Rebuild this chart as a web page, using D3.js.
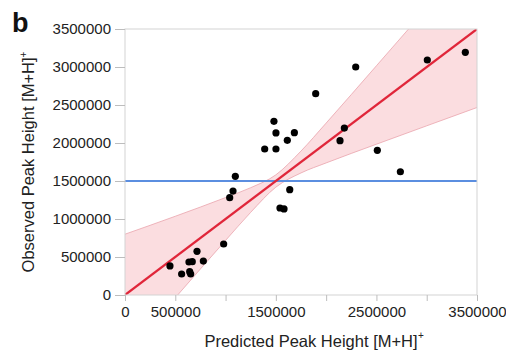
<!DOCTYPE html>
<html><head><meta charset="utf-8">
<script src="https://cdn.jsdelivr.net/npm/d3@7"></script>
<style>body{margin:0;background:#fff}svg{display:block}text{font-family:"Liberation Sans",Arial,sans-serif}</style>
</head><body><svg id="c" width="506" height="355"></svg>
<script>
const predicted = [447000,563000,636000,669000,643000,653000,716000,779000,981000,1041000,1074000,1097000,1389000,1481000,1501000,1501000,1614000,1684000,1541000,1581000,1638000,1896000,2138000,2181000,2294000,2509000,2738000,3006000,3384000];
const observed  = [382000,276000,434000,438000,307000,276000,575000,447000,671000,1280000,1368000,1562000,1921000,2285000,2132000,1921000,2035000,2136000,1145000,1132000,1386000,2649000,2031000,2197000,3000000,1904000,1622000,3092000,3193000];
const bandX     = [0,500000,1000000,1250000,1500000,1750000,2000000,2500000,3000000,3500000];
const bandUpper = [800000,1036000,1282000,1412000,1581000,1894000,2262000,3016000,3774000,4533000];
const bandLower = [-800000,-36000,718000,1088000,1419000,1606000,1738000,1984000,2226000,2467000];
const idealLine = [[0,0],[3500000,3500000]];
const threshold = 1500000;
const xTicks = [0,500000,1000000,1500000,2000000,2500000,3000000,3500000];
const xLabels = [0,500000,1500000,2500000,3500000];
const yTicks = [0,500000,1000000,1500000,2000000,2500000,3000000,3500000];

const svg = d3.select("#c");
const m = {l:125, t:29, r:29, b:60};
const W = 506 - m.l - m.r, H = 355 - m.t - m.b;
const x = d3.scaleLinear().domain([0,3500000]).range([0,W]);
const y = d3.scaleLinear().domain([0,3500000]).range([H,0]);
svg.append("defs").append("clipPath").attr("id","clip").append("rect").attr("width",W).attr("height",H);
const g = svg.append("g").attr("transform",`translate(${m.l},${m.t})`);
const pg = g.append("g").attr("clip-path","url(#clip)");

const band = bandX.map((v,i)=>({x:v,u:bandUpper[i],l:bandLower[i]}));
pg.append("path").datum(band)
  .attr("d", d3.area().x(d=>x(d.x)).y0(d=>y(d.l)).y1(d=>y(d.u)).curve(d3.curveMonotoneX))
  .attr("fill","#fbdde0");
pg.append("path").datum(band)
  .attr("d", d3.line().x(d=>x(d.x)).y(d=>y(d.u)).curve(d3.curveMonotoneX))
  .attr("fill","none").attr("stroke","#eaa5ad").attr("stroke-width",0.8);
pg.append("path").datum(band)
  .attr("d", d3.line().x(d=>x(d.x)).y(d=>y(d.l)).curve(d3.curveMonotoneX))
  .attr("fill","none").attr("stroke","#eaa5ad").attr("stroke-width",0.8);

pg.append("line").attr("x1",0).attr("x2",W).attr("y1",y(threshold)).attr("y2",y(threshold))
  .attr("stroke","#5b8ee0").attr("stroke-width",1.8);
pg.append("path").datum(idealLine)
  .attr("d", d3.line().x(d=>x(d[0])).y(d=>y(d[1])))
  .attr("stroke","#e0263a").attr("stroke-width",2.2).attr("fill","none");

g.append("rect").attr("width",W).attr("height",H).attr("fill","none").attr("stroke","#d3d3d3").attr("stroke-width",1);

pg.selectAll("circle").data(predicted).enter().append("circle")
  .attr("cx",(d)=>x(d)).attr("cy",(d,i)=>y(observed[i])).attr("r",3.6).attr("fill","#000");

const xa = g.append("g").attr("transform",`translate(0,${H})`)
  .call(d3.axisBottom(x).tickValues(xTicks).tickSize(6).tickFormat(()=>""));
xa.selectAll(".tick text").remove();
const xl = g.append("g").attr("transform",`translate(0,${H})`)
  .call(d3.axisBottom(x).tickValues(xLabels).tickSize(0).tickPadding(11).tickFormat(d3.format("d")));
xl.selectAll(".tick line").remove();
const ya = g.append("g")
  .call(d3.axisLeft(y).tickValues(yTicks).tickSize(10).tickPadding(4).tickFormat(d3.format("d")));
[xa,xl,ya].forEach(a=>{
  a.select(".domain").remove();
  a.selectAll(".tick line").attr("stroke","#bdbdbd");
  a.selectAll("text").attr("fill","#222").style("font-size","15px");
});

const cx = m.l + W/2 + 10;
const xt = svg.append("text").attr("x",cx).attr("y",347).attr("text-anchor","middle")
  .attr("fill","#222").style("font-size","16.5px").text("Predicted Peak Height [M+H]");
const xlen = xt.node().getComputedTextLength();
svg.append("text").attr("x",cx + xlen/2 + 0.5).attr("y",339).attr("fill","#222")
  .style("font-size","10px").text("+");

const yt = svg.append("text").attr("transform",`translate(34,${m.t+H/2}) rotate(-90)`).attr("text-anchor","middle")
  .attr("fill","#222").style("font-size","16.5px");
yt.append("tspan").text("Observed Peak Height [M+H]");
yt.append("tspan").text("+").attr("dy",-7).style("font-size","10px");

svg.append("text").attr("x",12).attr("y",32).text("b").style("font-size","27px").style("font-weight","bold").attr("fill","#111");
</script></body></html>
